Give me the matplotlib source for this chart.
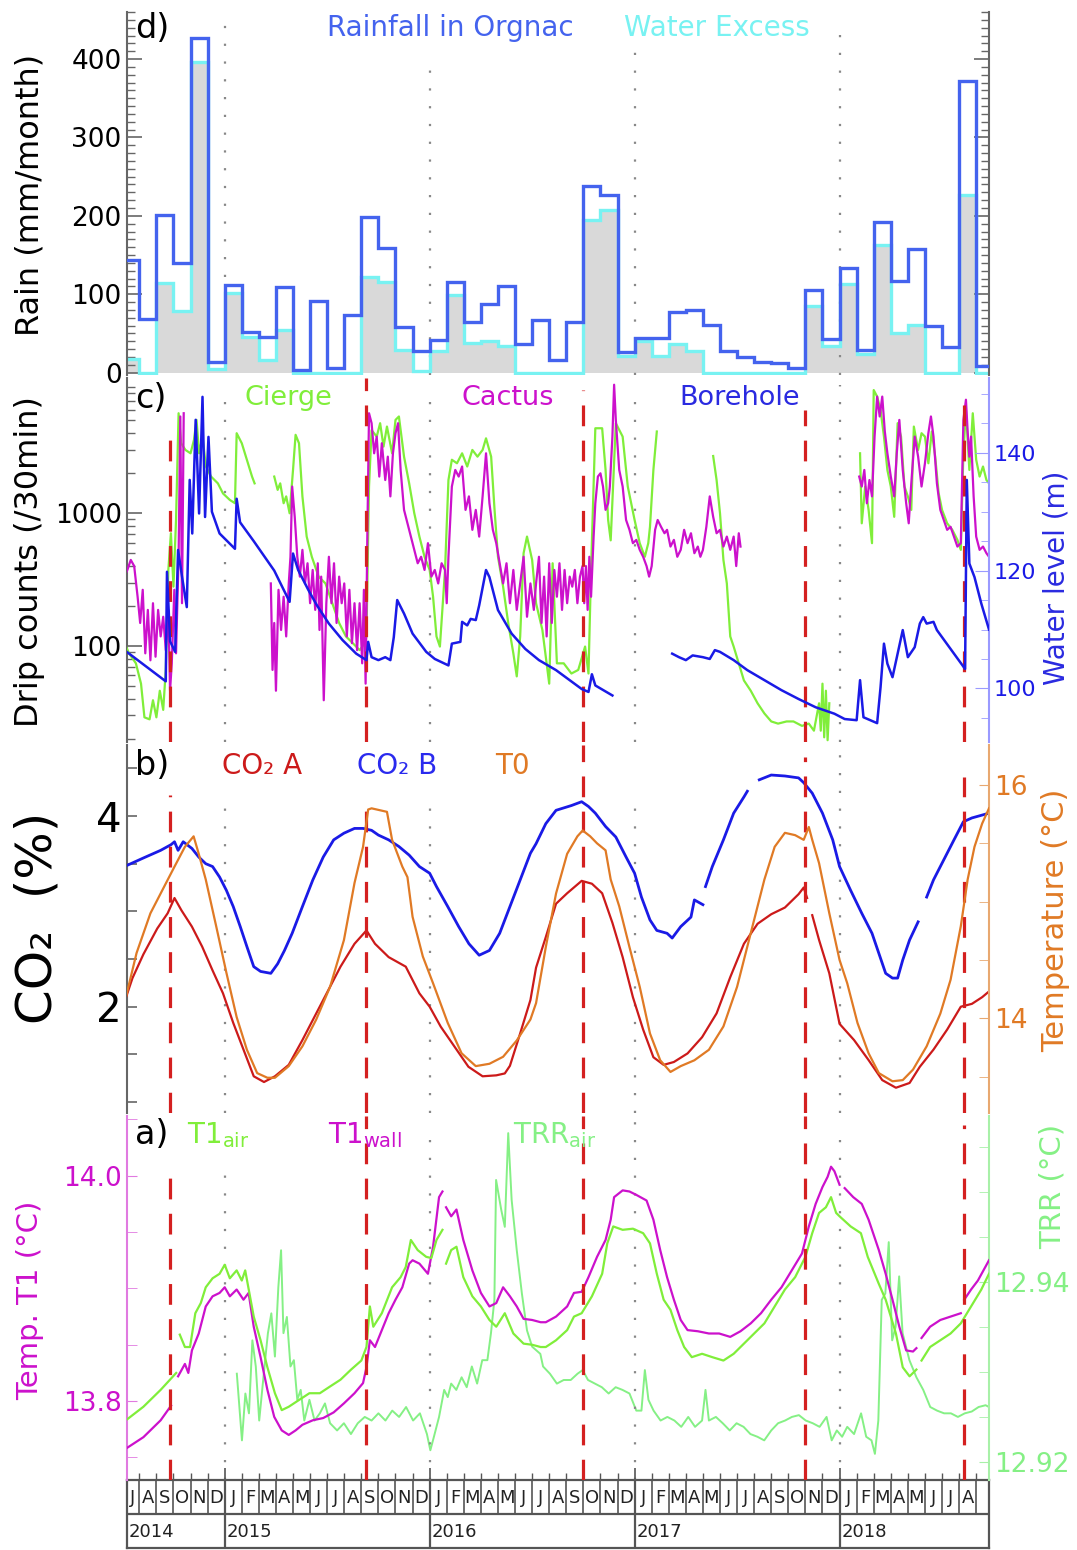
import numpy as np
import matplotlib
matplotlib.use("Agg")
import matplotlib.pyplot as plt
from matplotlib.ticker import FixedLocator, NullFormatter, LogLocator

nan = np.nan

# ---------------- DATA (time in months since 1 July 2014) ----------------
rain = [144, 68, 201, 140, 427, 13, 112, 52, 45, 109, 4, 91, 6, 74, 198, 159, 58, 28,
        42, 116, 64, 88, 111, 37, 67, 16, 65, 238, 227, 26, 44, 44, 77, 80, 61, 27,
        20, 13, 12, 6, 106, 43, 133, 29, 192, 117, 158, 59, 33, 372, 8]
excess = [17, 0, 114, 79, 396, 5, 101, 46, 16, 54, 0, 0, 0, 0, 122, 115, 29, 2,
          28, 99, 38, 41, 34, 0, 0, 0, 0, 195, 207, 21, 40, 21, 37, 28, 0, 0,
          0, 0, 0, 0, 85, 34, 113, 24, 163, 51, 61, 0, 0, 227, 0]

cierge = [(0.13, 105), (0.4, 88), (0.8, 74), (1.1, 52), (1.3, 29), (1.6, 28), (1.8, 39), (2.0, 29),
          (2.2, 46), (2.4, 33), (2.55, 66), (2.7, 374), (2.85, 707), (3.0, 280), (3.15, 890),
          (3.3, 5670), (3.45, 3370), (3.7, 3000), (4.0, 2830), (4.2, 3570), (4.35, 5050), (4.5, 2830),
          (4.7, 3780), (4.9, 2250), (5.2, 1890), (5.6, 1680), (5.9, 1410), (6.3, 1260), (6.6, 1190),
          (6.7, 4010), (7.0, 3370), (7.3, 2530), (7.6, 1890), (7.75, 1680), (nan, nan),
          (8.9, 1890), (9.1, 1500), (9.25, 1680), (9.45, 1190), (9.6, 1340), (9.8, 1000), (10.0, 2120),
          (10.15, 3900), (10.35, 3370), (10.55, 1340), (10.8, 667), (11.1, 470), (11.5, 333),
          (11.9, 296), (12.3, 210), (12.7, 149), (13.1, 118), (13.5, 105), (13.9, 93), (14.2, 105),
          (14.3, 118), (14.45, 1590), (14.6, 4230), (14.9, 3780), (15.1, 4770), (15.3, 3180),
          (15.5, 4500), (15.8, 2830), (16.0, 5050), (16.2, 5360), (16.5, 2670), (16.8, 1680),
          (17.1, 1000), (17.4, 667), (17.7, 470), (18.0, 374), (18.2, 235), (18.4, 118), (18.6, 99),
          (18.9, 374), (19.1, 1780), (19.3, 2530), (19.6, 2380), (19.9, 2830), (20.2, 2250),
          (20.5, 3000), (20.8, 2670), (21.1, 3000), (21.3, 3670), (21.6, 2670), (21.8, 1060),
          (22.0, 470), (22.3, 280), (22.6, 149), (22.9, 88), (23.1, 59), (23.3, 118), (23.5, 500),
          (23.7, 667), (24.0, 445), (24.23, 210), (24.6, 132), (25.0, 52), (25.2, 420), (25.45, 74),
          (25.85, 74), (26.3, 62), (26.7, 66), (27.1, 99), (27.3, 62), (27.45, 374), (27.6, 1680),
          (27.7, 4370), (28.1, 4370), (28.3, 2120), (28.45, 890), (28.6, 625), (28.9, 4770),
          (29.3, 3780), (29.6, 1590), (30.0, 890), (30.3, 595), (30.6, 470), (30.8, 595), (30.9, 790),
          (31.1, 2120), (31.3, 4130), (nan, nan),
          (34.6, 2700), (34.8, 1780), (35.0, 1000), (35.2, 445), (35.4, 296), (35.6, 118), (35.8, 99),
          (36.1, 74), (36.4, 55), (36.8, 46), (37.2, 37), (37.6, 31), (38.0, 27), (38.4, 26),
          (38.9, 27), (39.3, 27), (39.8, 25), (40.2, 26), (40.5, 23), (40.8, 37), (40.9, 23),
          (41.0, 52), (41.1, 20.5), (41.2, 46), (41.3, 19.5), (41.4, 37), (nan, nan),
          (43.2, 2830), (43.3, 840), (43.5, 1590), (43.7, 1060), (43.9, 595), (44.0, 8480),
          (44.2, 7570), (44.4, 6000), (44.6, 3780), (44.8, 2120), (45.0, 1590), (45.2, 940),
          (45.4, 4770), (45.6, 3780), (45.8, 1590), (46.0, 1340), (46.2, 1060), (46.35, 4500),
          (46.6, 3000), (46.8, 4010), (47.0, 3780), (47.2, 2380), (47.4, 4130), (47.6, 2670),
          (47.8, 1420), (48.0, 1060), (48.3, 840), (48.6, 750), (48.9, 630), (49.1, 530),
          (49.25, 2830), (49.4, 6000), (49.6, 2120), (49.8, 5670), (50.0, 2530), (50.2, 1890),
          (50.4, 2250), (50.6, 1780), (50.75, 1680)]

cactus = [(0.13, 333), (0.3, 374), (0.5, 445), (0.7, 400), (0.9, 235), (1.05, 149), (1.2, 265),
          (1.35, 88), (1.5, 187), (1.65, 78), (1.8, 210), (1.95, 83), (2.1, 187), (2.25, 118),
          (2.4, 166), (2.55, 93), (2.7, 187), (2.8, 46), (2.9, 74), (3.05, 265), (3.15, 88),
          (3.3, 470), (3.4, 5360), (3.5, 210), (3.6, 5670), (nan, nan),
          (8.7, 296), (8.8, 66), (8.9, 149), (9.0, 46), (9.15, 265), (9.3, 132), (9.45, 235),
          (9.6, 118), (9.75, 296), (9.85, 470), (9.95, 1590), (10.1, 940), (10.25, 470), (10.4, 333),
          (10.55, 530), (10.7, 296), (10.85, 420), (11.0, 210), (11.15, 374), (11.3, 187),
          (11.45, 420), (11.55, 132), (11.65, 333), (11.8, 39), (11.95, 210), (12.1, 470),
          (12.25, 210), (12.4, 420), (12.55, 149), (12.7, 333), (12.85, 210), (13.0, 296),
          (13.15, 118), (13.3, 265), (13.45, 105), (13.6, 210), (13.75, 93), (13.9, 210),
          (14.05, 74), (14.15, 265), (14.25, 52), (14.35, 667), (14.45, 5670), (14.6, 4770),
          (14.75, 2830), (14.9, 3780), (15.05, 1890), (15.2, 3370), (15.4, 1780), (15.55, 2670),
          (15.7, 1340), (15.85, 2830), (16.0, 4010), (16.15, 4770), (16.3, 2120), (16.5, 1060),
          (16.7, 840), (16.9, 667), (17.1, 530), (17.3, 420), (17.5, 470), (17.7, 374), (17.9, 595),
          (18.1, 333), (18.3, 374), (18.5, 296), (18.7, 420), (18.9, 374), (19.0, 210), (19.1, 470),
          (19.3, 1590), (19.5, 2120), (19.7, 1890), (19.9, 2250), (20.1, 1060), (20.3, 1340),
          (20.5, 750), (20.7, 1060), (20.9, 667), (21.1, 1340), (21.3, 2830), (21.5, 1190),
          (21.7, 750), (21.9, 595), (22.1, 420), (22.3, 296), (22.5, 420), (22.7, 210), (22.9, 374),
          (23.1, 187), (23.3, 296), (23.5, 470), (23.7, 166), (23.9, 296), (24.1, 187),
          (24.23, 296), (24.4, 470), (24.55, 149), (24.7, 333), (24.85, 118), (25.0, 420),
          (25.15, 149), (25.3, 374), (25.45, 235), (25.6, 420), (25.75, 187), (25.9, 374),
          (26.05, 210), (26.2, 333), (26.35, 280), (26.5, 374), (26.65, 210), (26.8, 333),
          (26.95, 400), (27.05, 210), (27.15, 400), (27.25, 187), (27.35, 470), (27.45, 235),
          (27.6, 667), (27.7, 1190), (27.85, 1890), (28.0, 2000), (28.15, 1590), (28.3, 1060),
          (28.45, 1190), (28.55, 1590), (28.7, 3780), (28.8, 9300), (28.9, 5050), (29.1, 2120),
          (29.3, 1590), (29.5, 890), (29.7, 750), (29.9, 595), (30.1, 630), (30.3, 530),
          (30.5, 470), (30.7, 400), (30.85, 333), (31.0, 400), (31.2, 750), (31.35, 890),
          (31.55, 790), (31.75, 707), (31.9, 750), (32.1, 561), (32.3, 630), (32.5, 470),
          (32.7, 530), (32.9, 750), (33.1, 595), (33.3, 707), (33.5, 500), (33.7, 561), (33.85, 470),
          (34.0, 530), (34.2, 790), (34.4, 1340), (34.6, 940), (34.8, 707), (35.0, 750), (35.2, 561),
          (35.4, 667), (35.6, 530), (35.8, 667), (35.95, 400), (36.1, 707), (36.2, 561), (nan, nan),
          (43.15, 1890), (43.3, 1590), (43.45, 2120), (43.6, 1190), (43.75, 1780), (43.9, 1340),
          (44.05, 3780), (44.2, 7570), (44.35, 5360), (44.5, 7570), (44.65, 4130), (44.8, 2830),
          (45.0, 1890), (45.2, 1340), (45.35, 2830), (45.5, 5050), (45.7, 2120), (45.9, 1190),
          (46.05, 840), (46.2, 1680), (46.4, 3780), (46.6, 2670), (46.8, 1590), (47.0, 2380),
          (47.2, 4010), (47.35, 5360), (47.5, 3780), (47.7, 1680), (47.9, 1060), (48.1, 890),
          (48.3, 750), (48.5, 790), (48.7, 667), (48.9, 561), (49.1, 595), (49.25, 5050),
          (49.4, 7170), (49.5, 4130), (49.6, 2670), (49.7, 3780), (49.85, 1340), (50.0, 667),
          (50.2, 530), (50.4, 561), (50.6, 500), (50.75, 470)]

borehole = [(0.13, 106.5), (2.55, 101.2), (2.62, 119.8), (2.8, 108.0), (3.1, 106.2), (3.27, 123.5),
            (3.5, 119.0), (3.78, 113.8), (3.95, 135.4), (4.1, 126.3), (4.3, 145.6), (4.5, 129.7),
            (4.7, 149.5), (4.85, 129.1), (5.05, 142.7), (5.25, 130.0), (5.7, 126.3), (6.6, 123.7),
            (6.7, 132.2), (6.9, 128.2), (7.7, 125.0), (8.9, 120.0), (9.8, 114.7), (10.0, 122.9),
            (10.3, 120.1), (10.9, 116.7), (11.4, 114.1), (12.1, 111.0), (12.9, 108.2), (13.7, 105.9),
            (14.3, 104.8), (14.4, 107.9), (14.6, 105.3), (15.0, 104.8), (15.4, 105.3), (15.7, 104.8),
            (15.9, 108.7), (16.1, 115.0), (16.5, 112.7), (17.0, 109.3), (17.8, 106.2), (18.3, 105.0),
            (19.1, 103.9), (19.3, 107.6), (19.8, 107.9), (19.9, 111.3), (20.2, 110.7), (20.4, 111.8),
            (20.7, 111.6), (20.9, 114.1), (21.3, 120.1), (21.5, 118.9), (22.0, 113.3), (22.8, 109.3),
            (23.6, 106.7), (24.4, 104.8), (25.4, 103.1), (26.9, 99.9), (27.3, 99.4), (27.5, 102.4),
            (27.7, 100.5), (28.7, 98.8), (nan, nan),
            (32.2, 105.9), (32.6, 105.3), (33.0, 104.8), (33.4, 105.6), (34.0, 105.3), (34.4, 105.0),
            (34.7, 106.5), (35.0, 106.2), (35.8, 104.8), (36.6, 103.1), (37.6, 101.4), (38.6, 99.7),
            (39.6, 98.2), (40.6, 96.8), (41.7, 95.7), (42.3, 94.8), (43.0, 94.6), (43.2, 101.4),
            (43.4, 95.1), (44.2, 94.1), (44.4, 100.2), (44.6, 107.6), (44.8, 104.2), (45.1, 101.9),
            (45.7, 109.9), (46.0, 105.3), (46.4, 107.0), (46.7, 111.0), (46.9, 112.1), (47.1, 111.0),
            (47.5, 111.3), (47.7, 109.9), (48.7, 105.9), (49.35, 103.3), (49.45, 135.4),
            (49.6, 121.2), (49.9, 118.9), (50.3, 114.4), (50.75, 110.0)]

co2_a = [(0.13, 2.05), (0.6, 2.3), (1.24, 2.55), (2.05, 2.82), (2.66, 2.98), (3.06, 3.14), (3.47, 3.01),
         (4.08, 2.84), (4.68, 2.63), (5.29, 2.38), (5.9, 2.14), (6.5, 1.83), (7.1, 1.55), (7.7, 1.27),
         (8.3, 1.21), (8.94, 1.27), (9.75, 1.39), (10.55, 1.65), (11.36, 1.93), (11.97, 2.14),
         (12.78, 2.42), (13.6, 2.66), (14.3, 2.80), (14.8, 2.66), (15.6, 2.52), (16.6, 2.42),
         (17.4, 2.14), (18.0, 2.0), (18.65, 1.79), (19.46, 1.58), (20.27, 1.37), (21.1, 1.27),
         (21.9, 1.28), (22.4, 1.30), (22.7, 1.38), (23.3, 1.72), (23.9, 2.07), (24.23, 2.41),
         (24.8, 2.73), (25.4, 3.08), (26.05, 3.19), (26.9, 3.32), (27.5, 3.29), (28.1, 3.19),
         (28.7, 2.88), (29.3, 2.52), (29.9, 2.10), (30.5, 1.76), (31.1, 1.47), (31.7, 1.39),
         (32.3, 1.42), (33.1, 1.51), (33.95, 1.68), (34.8, 1.93), (35.6, 2.31), (36.4, 2.66),
         (37.2, 2.87), (38.0, 2.97), (38.8, 3.04), (39.6, 3.18), (39.9, 3.25), (40.1, 3.14),
         (nan, nan), (40.4, 2.96), (40.8, 2.70), (41.4, 2.35), (42.0, 1.82), (42.85, 1.65),
         (43.7, 1.44), (44.5, 1.23), (45.3, 1.15), (46.1, 1.20), (46.7, 1.37), (47.5, 1.55),
         (48.3, 1.76), (49.1, 2.0), (49.75, 2.03), (50.35, 2.10), (50.75, 2.16)]

co2_b = [(0.13, 3.47), (1.24, 3.56), (2.25, 3.64), (2.86, 3.70), (3.06, 3.73), (3.27, 3.64), (3.57, 3.73),
         (4.08, 3.66), (4.48, 3.57), (4.89, 3.50), (5.29, 3.47), (5.7, 3.36), (6.1, 3.22), (6.5, 3.05),
         (6.91, 2.84), (7.3, 2.63), (7.7, 2.42), (8.1, 2.37), (8.7, 2.35), (9.1, 2.45), (9.5, 2.59),
         (9.95, 2.77), (10.55, 3.05), (11.16, 3.33), (11.77, 3.57), (12.38, 3.75), (12.98, 3.82),
         (13.6, 3.87), (14.1, 3.87), (14.6, 3.85), (15.0, 3.80), (15.6, 3.75), (16.2, 3.68),
         (16.8, 3.59), (17.4, 3.47), (18.0, 3.40), (18.4, 3.26), (19.06, 3.05), (19.7, 2.84),
         (20.3, 2.66), (20.9, 2.54), (21.5, 2.59), (22.1, 2.77), (22.7, 3.05), (23.3, 3.33),
         (23.9, 3.61), (24.23, 3.71), (24.8, 3.92), (25.4, 4.06), (26.3, 4.11), (26.9, 4.15),
         (27.3, 4.10), (27.7, 4.03), (28.3, 3.89), (28.9, 3.78), (29.5, 3.57), (30.0, 3.40),
         (30.4, 3.15), (30.9, 2.91), (31.3, 2.80), (31.9, 2.77), (32.2, 2.72), (32.7, 2.84),
         (33.3, 2.94), (33.5, 3.12), (34.0, 3.07), (nan, nan), (34.15, 3.26), (34.55, 3.47),
         (35.2, 3.75), (35.8, 4.03), (36.4, 4.20), (36.6, 4.26), (nan, nan), (37.3, 4.38),
         (38.0, 4.43), (38.8, 4.42), (39.6, 4.40), (39.9, 4.35), (40.4, 4.24), (41.0, 4.03),
         (41.6, 3.75), (42.0, 3.47), (42.65, 3.22), (43.3, 2.98), (43.9, 2.77), (44.3, 2.56),
         (44.7, 2.35), (45.1, 2.30), (45.4, 2.30), (45.7, 2.49), (46.1, 2.70), (46.6, 2.89),
         (nan, nan), (47.1, 3.15), (47.5, 3.33), (48.1, 3.54), (48.7, 3.75), (49.25, 3.94),
         (49.75, 3.98), (50.35, 4.01), (50.75, 4.03)]

t0 = [(0.13, 14.13), (0.84, 14.56), (1.65, 14.90), (2.46, 15.13), (3.06, 15.30), (3.67, 15.47),
      (4.18, 15.56), (4.48, 15.41), (4.89, 15.19), (5.5, 14.79), (6.1, 14.39), (6.7, 14.01),
      (7.3, 13.73), (7.9, 13.53), (8.5, 13.49), (8.94, 13.49), (9.75, 13.59), (10.55, 13.76),
      (11.36, 13.99), (12.17, 14.27), (12.98, 14.67), (13.6, 15.16), (14.1, 15.47), (14.4, 15.79),
      (14.6, 15.80), (15.5, 15.77), (15.8, 15.53), (16.4, 15.30), (16.7, 15.21), (17.0, 14.87),
      (17.6, 14.53), (18.2, 14.30), (19.06, 13.96), (19.87, 13.70), (20.7, 13.59), (21.5, 13.61),
      (22.3, 13.67), (23.1, 13.81), (23.9, 13.99), (24.23, 14.13), (24.8, 14.61), (25.4, 15.07),
      (26.05, 15.41), (26.65, 15.56), (26.96, 15.61), (27.4, 15.56), (27.8, 15.50), (28.3, 15.44),
      (28.6, 15.19), (29.1, 14.96), (29.7, 14.61), (30.3, 14.27), (30.9, 13.87), (31.5, 13.64),
      (32.1, 13.54), (32.7, 13.59), (33.5, 13.64), (34.35, 13.73), (35.2, 13.93), (36.0, 14.27),
      (36.8, 14.73), (37.6, 15.19), (38.2, 15.47), (38.8, 15.59), (39.4, 15.57), (39.9, 15.53),
      (40.2, 15.64), (40.4, 15.53), (40.8, 15.33), (41.4, 14.90), (42.0, 14.5), (42.45, 14.30),
      (43.05, 13.96), (43.7, 13.70), (44.3, 13.53), (45.1, 13.46), (45.7, 13.47), (46.3, 13.56),
      (47.1, 13.76), (47.9, 14.04), (48.5, 14.33), (49.1, 14.79), (49.5, 15.19), (49.9, 15.47),
      (50.35, 15.67), (50.75, 15.80)]

t1_air = [(0.13, 13.782), (1.24, 13.795), (2.25, 13.810), (3.16, 13.825), (nan, nan), (3.37, 13.859),
          (3.67, 13.848), (3.97, 13.848), (4.28, 13.878), (4.6, 13.887), (4.89, 13.901), (5.29, 13.909),
          (5.7, 13.913), (6.0, 13.921), (6.3, 13.909), (6.7, 13.916), (7.0, 13.907), (7.2, 13.916),
          (7.7, 13.875), (8.1, 13.854), (8.5, 13.830), (8.94, 13.807), (9.34, 13.792), (9.75, 13.795),
          (10.35, 13.801), (10.96, 13.807), (11.57, 13.807), (12.17, 13.813), (12.78, 13.819),
          (13.4, 13.828), (14.0, 13.836), (14.3, 13.848), (14.5, 13.884), (14.7, 13.866), (15.2, 13.878),
          (15.8, 13.901), (16.3, 13.910), (16.6, 13.919), (16.9, 13.943), (17.3, 13.934), (17.8, 13.928),
          (18.1, 13.927), (18.4, 13.943), (18.75, 13.952), (nan, nan), (18.96, 13.922), (19.26, 13.934),
          (19.57, 13.937), (19.97, 13.910), (20.5, 13.893), (21.0, 13.884), (21.5, 13.872),
          (21.9, 13.866), (22.4, 13.878), (22.9, 13.860), (23.5, 13.851), (24.0, 13.850),
          (24.5, 13.848), (24.8, 13.848), (25.4, 13.854), (26.05, 13.863), (26.45, 13.875),
          (26.9, 13.878), (27.5, 13.893), (28.1, 13.913), (28.4, 13.940), (28.75, 13.955),
          (29.3, 13.952), (29.9, 13.953), (30.5, 13.949), (30.9, 13.940), (31.3, 13.913),
          (31.7, 13.890), (32.1, 13.881), (32.5, 13.863), (32.9, 13.848), (33.35, 13.839),
          (33.95, 13.842), (34.55, 13.839), (35.2, 13.836), (35.8, 13.842), (36.4, 13.851),
          (37.0, 13.860), (37.6, 13.869), (38.2, 13.884), (38.8, 13.899), (39.4, 13.910),
          (40.0, 13.928), (40.4, 13.949), (40.8, 13.967), (41.2, 13.972), (41.5, 13.981),
          (41.8, 13.967), (42.0, 13.964), (42.65, 13.955), (43.25, 13.949), (43.65, 13.928),
          (44.3, 13.904), (44.7, 13.890), (45.3, 13.860), (45.7, 13.830), (46.1, 13.822),
          (46.5, 13.828), (nan, nan), (46.8, 13.836), (47.3, 13.848), (47.9, 13.854), (48.5, 13.860),
          (49.1, 13.869), (49.7, 13.884), (50.3, 13.899), (50.75, 13.913)]

t1_wall = [(0.13, 13.757), (1.24, 13.768), (2.25, 13.783), (2.86, 13.796), (nan, nan), (3.27, 13.822),
           (3.67, 13.833), (3.87, 13.825), (4.08, 13.845), (4.48, 13.860), (4.89, 13.884), (5.29, 13.893),
           (5.7, 13.896), (6.0, 13.901), (6.3, 13.893), (6.7, 13.899), (7.1, 13.890), (7.4, 13.896),
           (7.7, 13.866), (8.1, 13.839), (8.5, 13.810), (8.9, 13.786), (9.34, 13.774), (9.75, 13.770),
           (10.15, 13.774), (10.55, 13.779), (11.16, 13.783), (11.77, 13.785), (12.38, 13.790),
           (12.98, 13.798), (13.6, 13.807), (14.1, 13.816), (14.3, 13.830), (14.5, 13.854),
           (14.8, 13.848), (15.2, 13.863), (15.6, 13.878), (16.0, 13.890), (16.4, 13.901),
           (16.8, 13.922), (17.0, 13.925), (17.4, 13.922), (17.9, 13.913), (18.2, 13.937),
           (18.55, 13.981), (18.75, 13.986), (nan, nan), (18.96, 13.972), (19.26, 13.964),
           (19.57, 13.970), (19.97, 13.943), (20.5, 13.916), (21.0, 13.896), (21.5, 13.884),
           (21.9, 13.887), (22.3, 13.901), (22.7, 13.893), (23.1, 13.884), (23.5, 13.873),
           (24.0, 13.872), (24.5, 13.870), (24.8, 13.870), (25.4, 13.875), (26.05, 13.884),
           (26.45, 13.896), (26.9, 13.897), (27.3, 13.910), (27.8, 13.928), (28.3, 13.943),
           (28.6, 13.961), (28.8, 13.981), (29.3, 13.987), (29.7, 13.986), (30.1, 13.983),
           (30.7, 13.978), (31.1, 13.961), (31.5, 13.934), (31.9, 13.910), (32.3, 13.890),
           (32.7, 13.872), (33.1, 13.863), (33.7, 13.862), (34.35, 13.860), (34.95, 13.860),
           (35.6, 13.857), (36.2, 13.862), (36.8, 13.869), (37.4, 13.878), (38.0, 13.890),
           (38.6, 13.901), (39.2, 13.916), (39.8, 13.931), (40.2, 13.955), (40.6, 13.975),
           (41.0, 13.990), (41.3, 13.999), (41.5, 14.008), (41.7, 14.004), (42.0, 13.992),
           (nan, nan), (42.3, 13.989), (42.8, 13.981), (43.3, 13.975), (43.7, 13.961), (44.3, 13.934),
           (44.7, 13.913), (45.1, 13.890), (45.5, 13.866), (45.9, 13.845), (46.3, 13.844),
           (46.5, 13.847), (nan, nan), (46.8, 13.856), (47.3, 13.866), (47.9, 13.872), (48.5, 13.875),
           (49.1, 13.878), (nan, nan), (49.3, 13.890), (49.7, 13.899), (50.1, 13.907), (50.75, 13.925)]

trr_air = [(6.71, 12.9298), (7.01, 12.9224), (7.21, 12.9276), (7.42, 12.9254), (7.62, 12.9335),
           (7.82, 12.9306), (8.02, 12.9246), (8.33, 12.9306), (8.53, 12.9343), (8.73, 12.9365),
           (8.94, 12.9317), (9.14, 12.9394), (9.30, 12.9435), (9.44, 12.9343), (9.64, 12.9361),
           (9.85, 12.9306), (10.05, 12.9313), (10.25, 12.9269), (10.45, 12.9280), (10.66, 12.9246),
           (10.96, 12.9269), (11.26, 12.9246), (11.57, 12.9254), (11.87, 12.9265), (12.17, 12.9243),
           (12.58, 12.9235), (12.98, 12.9243), (13.39, 12.9231), (13.79, 12.9243), (14.2, 12.9250),
           (14.6, 12.9246), (15.0, 12.9254), (15.41, 12.9246), (15.81, 12.9257), (16.21, 12.9250),
           (16.62, 12.9261), (17.03, 12.9246), (17.43, 12.9254), (17.84, 12.9231), (18.04, 12.9213),
           (18.25, 12.9228), (18.55, 12.9250), (18.85, 12.9280), (19.06, 12.9272), (19.26, 12.9287),
           (19.56, 12.9280), (19.87, 12.9294), (20.17, 12.9283), (20.47, 12.9306), (20.78, 12.9287),
           (21.08, 12.9313), (21.38, 12.9313), (21.59, 12.9343), (21.79, 12.9380), (21.89, 12.9513),
           (22.19, 12.9480), (22.4, 12.9461), (22.6, 12.9565), (22.8, 12.9491), (23.1, 12.9435),
           (23.4, 12.9387), (23.7, 12.9346), (24.0, 12.9328), (24.48, 12.9320), (24.64, 12.9306),
           (25.04, 12.9298), (25.45, 12.9287), (25.85, 12.9291), (26.26, 12.9291), (26.66, 12.9298),
           (26.96, 12.9302), (27.27, 12.9291), (27.67, 12.9287), (28.08, 12.9283), (28.48, 12.9276),
           (28.89, 12.9283), (29.29, 12.9280), (29.7, 12.9276), (30.1, 12.9257), (30.4, 12.9257),
           (30.6, 12.9302), (30.81, 12.9269), (31.11, 12.9257), (31.52, 12.9246), (31.92, 12.9250),
           (32.33, 12.9246), (32.73, 12.9239), (33.14, 12.9250), (33.54, 12.9239), (33.95, 12.9246),
           (34.15, 12.9280), (34.35, 12.9246), (34.76, 12.9250), (35.16, 12.9243), (35.57, 12.9235),
           (35.97, 12.9243), (36.38, 12.9239), (36.78, 12.9231), (37.19, 12.9228), (37.59, 12.9224),
           (38.0, 12.9235), (38.4, 12.9243), (38.81, 12.9246), (39.21, 12.9250), (39.62, 12.9252),
           (40.02, 12.9246), (40.43, 12.9243), (40.83, 12.9239), (41.24, 12.9250), (41.54, 12.9224),
           (41.84, 12.9235), (42.15, 12.9228), (42.45, 12.9239), (42.85, 12.9231), (43.26, 12.9254),
           (43.56, 12.9228), (43.87, 12.9224), (44.07, 12.9209), (44.27, 12.9246), (44.47, 12.9380),
           (44.68, 12.9387), (44.88, 12.9444), (45.08, 12.9335), (45.28, 12.9350), (45.49, 12.9406),
           (45.69, 12.9343), (46.09, 12.9313), (46.5, 12.9294), (46.9, 12.9280), (47.31, 12.9261),
           (47.71, 12.9257), (48.12, 12.9254), (48.52, 12.9254), (48.93, 12.9250), (49.33, 12.9254),
           (49.74, 12.9256), (50.14, 12.9261), (50.55, 12.9263), (50.75, 12.9261)]

event_lines = [2.8, 14.3, 26.95, 40.0, 49.3]
year_starts = [6, 18, 30, 42]
year_labels = ["2014", "2015", "2016", "2017", "2018"]
year_label_pos = [0.25, 6, 18, 30, 42]
month_letters = (["J", "A", "S", "O", "N", "D"]
                 + ["J", "F", "M", "A", "M", "J", "J", "A", "S", "O", "N", "D"] * 3
                 + ["J", "F", "M", "A", "M", "J", "J", "A"])

XMIN, XMAX = 0.25, 50.75

# styling: vertical extent (axes fraction) of the guide lines in each panel
DOT_SPAN = {'d': [(0.27, 1.0), (0.0, 0.868), (0.0, 0.89), (0.0, 0.97)],
            'c': [(0.0, 0.96), (0.0, 0.97), (0.0, 0.95), (0.0, 0.98)],
            'b': [(0.0, 0.864), (0.0, 0.845), (0.0, 0.87), (0.0, 0.986)],
            'a': [(0.0, 0.857), (0.0, 0.975), (0.0, 1.0), (0.0, 0.953)]}
DASH_TOP = {'c': [0.865, 1.0, 0.967, 0.912, 0.945],
            'b': [0.864, 0.837, 1.0, 0.967, 0.913],
            'a': [0.865, 1.0, 1.0, 1.0, 0.975]}

# ---------------- FIGURE ----------------
plt.rcParams['font.family'] = ['DejaVu Sans']
W_PX, H_PX = 1077, 1550
fig = plt.figure(figsize=(10.77, 15.5), dpi=100)
fig.patch.set_facecolor('white')

def fx(x):
    return x / W_PX

def fy(y):
    return 1 - y / H_PX

LPX, RPX = 126.5, 989.0

def add(top, bot):
    return fig.add_axes([fx(LPX), fy(bot), fx(RPX) - fx(LPX), (bot - top) / H_PX])

axd = add(12, 375)
axc = add(378, 742)
axb = add(745, 1113)
axa = add(1116, 1480)
axt = add(1480, 1548)

C_RAIN = '#4463ee'
C_EXC = '#78f2f2'
C_GREEN = '#80ee3a'
C_MAG = '#cc11cc'
C_BLUE = '#1a1ae6'
C_RED = '#cc1a1a'
C_ORANGE = '#e07a25'
C_LGREEN = '#85f085'
C_DASH = '#d42020'
C_GRID = '#888888'
C_AX = '#666666'


def unzip(pairs):
    a = np.array(pairs, dtype=float)
    return a[:, 0], a[:, 1]


def base_style(ax, lcol, key):
    ax.set_xlim(XMIN, XMAX)
    ax.patch.set_alpha(0)
    ax.spines['top'].set_visible(False)
    ax.spines['bottom'].set_visible(False)
    ax.spines['right'].set_visible(False)
    ax.spines['left'].set_color(lcol)
    ax.spines['left'].set_linewidth(1.5)
    ax.tick_params(axis='x', which='both', bottom=False, top=False, labelbottom=False)
    for t, (y0, y1) in zip(year_starts, DOT_SPAN[key]):
        ax.axvline(t, ymin=y0, ymax=y1, color=C_GRID, lw=1.6, ls=(0, (1, 7)), zorder=1.5)


def right_style(ax, col):
    ax.set_xlim(XMIN, XMAX)
    for s in ['top', 'bottom', 'left']:
        ax.spines[s].set_visible(False)
    ax.spines['right'].set_color(col)
    ax.spines['right'].set_linewidth(1.5)


def dashed_events(ax, key):
    for t, top in zip(event_lines, DASH_TOP[key]):
        ax.axvline(t, ymin=0, ymax=top, color=C_DASH, lw=2.3, dashes=(6.5, 4.5), zorder=5)

# ---- panel d : rainfall ----
base_style(axd, C_AX, 'd')
edges = np.arange(len(rain) + 1)
axd.stairs(excess, edges, fill=True, color='#d9d9d9', baseline=0, zorder=1)
axd.stairs(excess, edges, baseline=None, color=C_EXC, lw=2.4, zorder=2)
axd.stairs(rain, edges, baseline=None, color=C_RAIN, lw=2.4, zorder=3)
axd.set_ylim(-3, 460)
axd.yaxis.set_major_locator(FixedLocator([0, 100, 200, 300, 400]))
axd.yaxis.set_minor_locator(FixedLocator(np.arange(0, 461, 10)))
axd.tick_params(axis='y', which='both', direction='in', left=True, right=True,
                color=C_AX, labelsize=19)
axd.tick_params(axis='y', which='major', length=11, width=1.2)
axd.tick_params(axis='y', which='minor', length=6, width=1.0)
axd.spines['right'].set_visible(True)
axd.spines['right'].set_color(C_AX)
axd.spines['right'].set_linewidth(1.5)

# ---- panel c : drips + borehole ----
base_style(axc, C_AX, 'c')
ct, cv = unzip(cierge)
axc.plot(ct, cv, color=C_GREEN, lw=1.6, zorder=3)
kt, kv = unzip(cactus)
axc.plot(kt, kv, color=C_MAG, lw=1.6, zorder=3.2)
axc.set_yscale('log')
axc.set_ylim(18.9, 10450)
axc.yaxis.set_major_locator(FixedLocator([100, 1000]))
axc.set_yticklabels(['100', '1000'])
axc.yaxis.set_minor_locator(LogLocator(base=10, subs=np.arange(2, 10)))
axc.yaxis.set_minor_formatter(NullFormatter())
axc.tick_params(axis='y', which='both', direction='in', color=C_AX, labelsize=19)
axc.tick_params(axis='y', which='major', length=11, width=1.2)
axc.tick_params(axis='y', which='minor', length=6, width=1.0)
dashed_events(axc, 'c')
axc2 = axc.twinx()
right_style(axc2, '#9a9aff')
bt, bv = unzip(borehole)
axc2.plot(bt, bv, color=C_BLUE, lw=1.8, zorder=4)
axc2.set_ylim(90.9, 152.7)
axc2.yaxis.set_major_locator(FixedLocator([100, 120, 140]))
axc2.yaxis.set_minor_locator(FixedLocator(np.arange(95, 151, 5)))
axc2.tick_params(axis='y', which='both', direction='in', color='#9a9aff',
                 labelcolor=C_BLUE, labelsize=16)
axc2.tick_params(axis='y', which='major', length=10)
axc2.tick_params(axis='y', which='minor', length=6)

# ---- panel b : CO2 + T0 ----
base_style(axb, C_AX, 'b')
at_, av = unzip(co2_a)
axb.plot(at_, av, color=C_RED, lw=1.6, zorder=3)
bt_, bv_ = unzip(co2_b)
axb.plot(bt_, bv_, color=C_BLUE, lw=2.0, zorder=3)
axb.set_ylim(0.885, 4.745)
axb.yaxis.set_major_locator(FixedLocator([2, 4]))
axb.yaxis.set_minor_locator(FixedLocator([1.0, 1.5, 2.5, 3.0, 3.5, 4.5]))
axb.tick_params(axis='y', which='both', direction='in', color=C_AX, labelsize=29,
                length=7, width=1.2)
dashed_events(axb, 'b')
axb2 = axb.twinx()
right_style(axb2, '#e8a870')
tt, tv = unzip(t0)
axb2.plot(tt, tv, color=C_ORANGE, lw=1.6, zorder=3)
axb2.set_ylim(13.188, 16.343)
axb2.yaxis.set_major_locator(FixedLocator([14, 16]))
axb2.yaxis.set_minor_locator(FixedLocator([13.5, 14.5, 15.0, 15.5]))
axb2.tick_params(axis='y', which='both', direction='in', color='#e8a870',
                 labelcolor=C_ORANGE, labelsize=19, length=7)

# ---- panel a : temperatures ----
base_style(axa, '#e07ae0', 'a')
t1t, t1v = unzip(t1_air)
axa.plot(t1t, t1v, color=C_GREEN, lw=1.6, zorder=3.1)
t2t, t2v = unzip(t1_wall)
axa.plot(t2t, t2v, color=C_MAG, lw=1.6, zorder=3)
axa.set_ylim(13.73, 14.053)
axa.yaxis.set_major_locator(FixedLocator([13.8, 14.0]))
axa.set_yticklabels(['13.8', '14.0'])
axa.yaxis.set_minor_locator(FixedLocator([13.75, 13.85, 13.90, 13.95, 14.05]))
axa.tick_params(axis='y', which='both', direction='in', color='#e07ae0',
                labelcolor=C_MAG, labelsize=19, length=7)
axa.xaxis.set_major_locator(FixedLocator(year_starts))
axa.xaxis.set_minor_locator(FixedLocator(np.arange(1, 51)))
axa.tick_params(axis='x', which='both', bottom=True, direction='in', color='#555555')
axa.tick_params(axis='x', which='major', length=9, width=1.2)
axa.tick_params(axis='x', which='minor', length=5, width=1.0)
dashed_events(axa, 'a')
axa2 = axa.twinx()
right_style(axa2, '#a8f0a8')
rt, rv = unzip(trr_air)
axa2.plot(rt, rv, color=C_LGREEN, lw=1.4, zorder=2)
axa2.set_ylim(12.918, 12.9584)
axa2.yaxis.set_major_locator(FixedLocator([12.92, 12.94]))
axa2.set_yticklabels(['12.92', '12.94'])
axa2.yaxis.set_minor_locator(FixedLocator([12.925, 12.93, 12.935, 12.945, 12.95, 12.955]))
axa2.tick_params(axis='y', which='both', direction='in', color='#a8f0a8',
                 labelcolor=C_LGREEN, labelsize=19, length=7)
axa.set_zorder(axa2.get_zorder() + 1)
axa.patch.set_visible(False)

# ---- bottom month/year table ----
axt.set_xlim(XMIN, XMAX)
axt.set_ylim(0, 2)
axt.set_xticks([])
axt.set_yticks([])
for s in axt.spines.values():
    s.set_color('#555555')
    s.set_linewidth(1.6)
axt.axhline(1, color='#555555', lw=1.6)
for m in range(1, 51):
    axt.plot([m, m], [1, 2], color='#555555', lw=1.2)
for y in year_starts:
    axt.plot([y, y], [0, 2], color='#555555', lw=1.6)
for i, lab in enumerate(month_letters):
    left = max(i, XMIN)
    axt.text((left + i + 1) / 2, 1.48, lab, ha='center', va='center', fontsize=13, color='#222222')
for pos, lab in zip(year_label_pos, year_labels):
    axt.text(pos + 0.1, 0.47, lab, ha='left', va='center', fontsize=13, color='#222222')

# ---------------- TEXT ----------------
def ftext(x, y, s, **kw):
    fig.text(fx(x), fy(y), s, **kw)

ftext(135, 28, 'd)', fontsize=24, ha='left', va='center')
ftext(450, 28, 'Rainfall in Orgnac', fontsize=20, color=C_RAIN, ha='center', va='center')
ftext(717, 28, 'Water Excess', fontsize=20, color=C_EXC, ha='center', va='center')

ftext(135, 398, 'c)', fontsize=24, ha='left', va='center')
ftext(288, 398, 'Cierge', fontsize=19.5, color=C_GREEN, ha='center', va='center')
ftext(508, 398, 'Cactus', fontsize=19.5, color=C_MAG, ha='center', va='center')
ftext(740, 398, 'Borehole', fontsize=19.5, color='#2a2ae0', ha='center', va='center')

ftext(135, 766, 'b)', fontsize=24, ha='left', va='center')
ftext(262, 766, 'CO₂ A', fontsize=20, color=C_RED, ha='center', va='center')
ftext(397, 766, 'CO₂ B', fontsize=20, color='#2a2aee', ha='center', va='center')
ftext(512, 766, 'T0', fontsize=20, color=C_ORANGE, ha='center', va='center')

ftext(135, 1135, 'a)', fontsize=24, ha='left', va='center')
ftext(218, 1135, r'T1$_{\mathregular{air}}$', fontsize=20, color=C_GREEN, ha='center', va='center')
ftext(365, 1135, r'T1$_{\mathregular{wall}}$', fontsize=20, color=C_MAG, ha='center', va='center')
ftext(555, 1135, r'TRR$_{\mathregular{air}}$', fontsize=20, color=C_LGREEN, ha='center', va='center')

ftext(30, 195, 'Rain (mm/month)', fontsize=23, rotation=90, ha='center', va='center')
ftext(30, 562, 'Drip counts (/30min)', fontsize=23, rotation=90, ha='center', va='center')
ftext(1056, 578, 'Water level (m)', fontsize=20, rotation=90, color='#2a2ae0', ha='center', va='center')
ftext(38, 918, 'CO₂  (%)', fontsize=36, rotation=90, ha='center', va='center')
ftext(1056, 920, 'Temperature (°C)', fontsize=22, rotation=90, color=C_ORANGE, ha='center', va='center')
ftext(30, 1300, 'Temp. T1 (°C)', fontsize=21, rotation=90, color=C_MAG, ha='center', va='center')
ftext(1053, 1186, 'TRR (°C)', fontsize=21, rotation=90, color=C_LGREEN, ha='center', va='center')

fig.savefig('out.png', dpi=100)
